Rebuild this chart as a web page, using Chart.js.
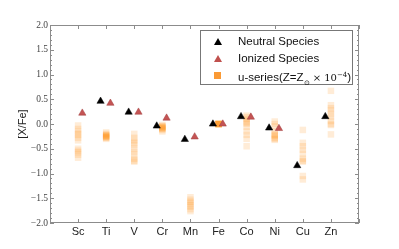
<!DOCTYPE html>
<html>
<head>
<meta charset="utf-8">
<script src="https://cdn.jsdelivr.net/npm/chart.js@4/dist/chart.umd.min.js"></script>
<style>
  html, body { margin: 0; padding: 0; background: #fff; }
  #wrap { position: relative; width: 399px; height: 249px; }
  #legend { position: absolute; left: 200px; top: 30px; width: 153px; height: 55px;
    border: 1px solid #777; background: #fff; box-sizing: border-box;
    font-family: "Liberation Sans", Arial, sans-serif; font-size: 11.5px; color: #111; }
  .row { position: absolute; left: 0; height: 16px; line-height: 16px; white-space: nowrap; }
  .txt { position: absolute; left: 37px; top: 0; }
  .mk { position: absolute; left: 13px; top: 5px; width: 0; height: 0; }
  .serif { font-family: "DejaVu Serif", serif; font-size: 10px; }
</style>
</head>
<body>
<div id="wrap">
  <canvas id="c" width="399" height="249"></canvas>
  <div id="legend">
    <div class="row" style="top:2px"><span class="mk" style="border-left:4px solid transparent;border-right:4px solid transparent;border-bottom:7px solid #000;"></span><span class="txt">Neutral Species</span></div>
    <div class="row" style="top:19px"><span class="mk" style="border-left:4px solid transparent;border-right:4px solid transparent;border-bottom:7px solid #c0504d;"></span><span class="txt">Ionized Species</span></div>
    <div class="row" style="top:36px"><span class="mk" style="left:13px;top:5px;width:7px;height:7px;background:#fa9a35;"></span><span class="txt">u-series(Z=Z<sub style="font-size:7px">⊙</sub> <span class="serif">× 10<sup style="font-size:7px">−4</sup></span>)</span></div>
  </div>
</div>
<script>
const categories = ['Sc','Ti','V','Cr','Mn','Fe','Co','Ni','Cu','Zn'];
const neutral = [null, 0.46, 0.24, -0.04, -0.31, 0.0, 0.15, -0.08, -0.84, 0.15];
const ionized = [0.22, 0.42, 0.24, 0.12, -0.26, 0.0, 0.14, -0.09, null, null];
const uSc = [-0.03, -0.1, -0.15, -0.2, -0.22, -0.28, -0.33, -0.5, -0.54, -0.57, -0.62, -0.68];
const uTi = [-0.17, -0.2, -0.22, -0.24, -0.25, -0.26, -0.28, -0.3, -0.23, -0.27];
const uV  = [-0.2, -0.28, -0.33, -0.38, -0.42, -0.5, -0.56, -0.62, -0.7, -0.74, -0.76];
const uCr = [-0.02, -0.04, -0.06, -0.08, -0.1, -0.05, -0.09, -0.12, -0.15, -0.07];
const uMn = [-1.48, -1.53, -1.57, -1.6, -1.64, -1.67, -1.72, -1.76];
const uFe = [0, 0, 0, 0, 0, 0, 0, 0, 0, 0];
const uCo = [0.17, 0.14, 0.1, 0.06, 0.03, 0.0, -0.06, -0.15, -0.22, -0.3, -0.45];
const uNi = [0.05, 0.0, -0.05, -0.15, -0.2, -0.24, -0.28, -0.32, -0.3, -0.22];
const uCu = [-0.12, -0.38, -0.45, -0.52, -0.6, -0.7, -0.74, -0.76, -1.05, -1.12];
const uZn = [0.67, 0.38, 0.32, 0.27, 0.2, 0.14, 0.06, 0.0, -0.02, -0.21];
const uSeries = [uSc, uTi, uV, uCr, uMn, uFe, uCo, uNi, uCu, uZn];
const yTicks = [-2.0, -1.5, -1.0, -0.5, 0.0, 0.5, 1.0, 1.5, 2.0];

const NEUTRAL_OFF = -0.2, ION_OFF = 0.15;
const neutralPts = [], ionPts = [], uPts = [];
categories.forEach((c, i) => {
  if (neutral[i] !== null) neutralPts.push({x: i + 1 + NEUTRAL_OFF, y: neutral[i]});
  if (ionized[i] !== null) ionPts.push({x: i + 1 + ION_OFF, y: ionized[i]});
  uSeries[i].forEach(v => uPts.push({x: i + 1, y: v}));
});

const frame = {
  id: 'frame',
  afterDatasetsDraw(chart) {
    const {ctx, chartArea: a, scales: {x, y}} = chart;
    ctx.save();
    ctx.strokeStyle = '#8c8c8c';
    ctx.lineWidth = 1;
    ctx.strokeRect(a.left + 0.5, a.top + 0.5, a.right - a.left - 1, a.bottom - a.top - 1);
    ctx.beginPath();
    for (let k = -20; k <= 20; k++) {
      const v = k / 10;
      const py = Math.round(y.getPixelForValue(v)) + 0.5;
      const len = (k % 5 === 0) ? 4 : 2;
      ctx.moveTo(a.left, py); ctx.lineTo(a.left + len, py);
      ctx.moveTo(a.right, py); ctx.lineTo(a.right - len, py);
    }
    for (let i = 0; i <= categories.length + 1; i++) {
      const px = Math.round(x.getPixelForValue(i)) + 0.5;
      ctx.moveTo(px, a.bottom); ctx.lineTo(px, a.bottom - 4);
      ctx.moveTo(px, a.top); ctx.lineTo(px, a.top + 4);
    }
    ctx.stroke();
    ctx.restore();
  }
};

new Chart(document.getElementById('c'), {
  type: 'scatter',
  data: {
    datasets: [
      { label: 'Neutral Species', data: neutralPts, pointStyle: 'triangle', pointRadius: 4.2,
        backgroundColor: '#000', borderColor: '#000', borderWidth: 0.5, order: 1 },
      { label: 'Ionized Species', data: ionPts, pointStyle: 'triangle', pointRadius: 4.2,
        backgroundColor: '#c45454', borderColor: '#a03c3c', borderWidth: 0.5, order: 2 },
      { label: 'u-series', data: uPts, pointStyle: 'rect', pointRadius: 4.6,
        backgroundColor: 'rgba(255,140,20,0.17)', borderWidth: 0, order: 3 }
    ]
  },
  options: {
    responsive: false,
    animation: false,
    events: [],
    layout: { padding: { top: 25, right: 40, left: 0, bottom: 0 } },
    plugins: { legend: { display: false }, tooltip: { enabled: false } },
    scales: {
      x: {
        type: 'linear', min: 0, max: 11,
        afterFit(s) { s.height = 26; },
        afterBuildTicks(s) { s.ticks = categories.map((c, i) => ({value: i + 1})); },
        grid: { display: false, drawTicks: false },
        border: { display: false },
        ticks: { padding: 2, color: '#222', font: { family: 'Liberation Sans', size: 11 },
          autoSkip: false, maxRotation: 0,
          callback: (v) => categories[Math.round(v) - 1] ?? '' }
      },
      y: {
        min: -2, max: 2,
        afterFit(s) { s.width = 50; },
        afterBuildTicks(s) { s.ticks = yTicks.map(v => ({value: v})); },
        grid: { display: false, drawTicks: false },
        border: { display: false },
        title: { display: true, text: '[X/Fe]', color: '#222', padding: { top: 16, bottom: 0 },
          font: { family: 'Liberation Sans', size: 11 } },
        ticks: { padding: 2, color: '#444', font: { family: 'Liberation Serif', size: 9.5 },
          callback: (v) => (v < 0 ? '\u2212' : '') + Math.abs(v).toFixed(1) }
      }
    }
  },
  plugins: [frame]
});
</script>
</body>
</html>
